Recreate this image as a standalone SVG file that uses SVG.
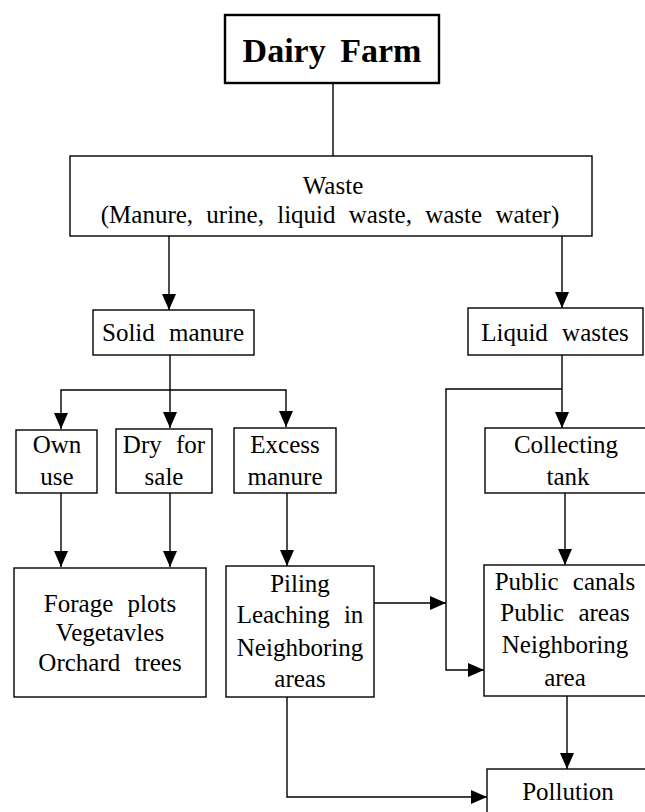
<svg xmlns="http://www.w3.org/2000/svg" width="645" height="812" viewBox="0 0 645 812">
<style>
  .box { fill: #fff; stroke: #000; stroke-width: 1.4; }
  .main { fill: #fff; stroke: #000; stroke-width: 2.4; }
  .t { font-family: "Liberation Serif", "Times New Roman", serif; font-size: 25px; fill: #000; text-anchor: middle; word-spacing: 8px; }
  .title { font-family: "Liberation Serif", "Times New Roman", serif; font-size: 34px; font-weight: bold; fill: #000; text-anchor: middle; word-spacing: 6px; }
  .c { fill: none; stroke: #000; stroke-width: 1.4; }
</style>
<defs>
  <marker id="arr" markerUnits="userSpaceOnUse" markerWidth="16" markerHeight="14" refX="16" refY="7" orient="auto">
    <path d="M0,0 L16,7 L0,14 Z" fill="#000"/>
  </marker>
</defs>
<rect width="645" height="812" fill="#fff"/>

<g id="connectors">
  <path class="c" d="M333,83 V156"/>
  <path class="c" d="M169,236 V310" marker-end="url(#arr)"/>
  <path class="c" d="M562,236 V308" marker-end="url(#arr)"/>
  <path class="c" d="M170,355 V428" marker-end="url(#arr)"/>
  <path class="c" d="M170,390 H61 V429" marker-end="url(#arr)"/>
  <path class="c" d="M170,390 H286 V427" marker-end="url(#arr)"/>
  <path class="c" d="M562,355 V428" marker-end="url(#arr)"/>
  <path class="c" d="M562,389 H446 V670 H484" marker-end="url(#arr)"/>
  <path class="c" d="M61,493 V567" marker-end="url(#arr)"/>
  <path class="c" d="M170,493 V567" marker-end="url(#arr)"/>
  <path class="c" d="M287,493 V566" marker-end="url(#arr)"/>
  <path class="c" d="M374,603 H446" marker-end="url(#arr)"/>
  <path class="c" d="M565,493 V565" marker-end="url(#arr)"/>
  <path class="c" d="M567,696 V769" marker-end="url(#arr)"/>
  <path class="c" d="M287,697 V797 H487" marker-end="url(#arr)"/>
</g>

<g id="dairy-farm">
  <rect class="main" x="225" y="15" width="214" height="68"/>
  <text class="title" x="332" y="62">Dairy Farm</text>
</g>

<g id="waste">
  <rect class="box" x="70" y="156" width="522" height="80"/>
  <text class="t" x="333" y="194">Waste</text>
  <text class="t" x="330" y="223" style="word-spacing:7px">(Manure, urine, liquid waste, waste water)</text>
</g>

<g id="solid-manure">
  <rect class="box" x="93" y="310" width="161" height="45"/>
  <text class="t" x="173" y="341">Solid manure</text>
</g>

<g id="liquid-wastes">
  <rect class="box" x="468" y="308" width="175" height="47"/>
  <text class="t" x="555" y="341">Liquid wastes</text>
</g>

<g id="own-use">
  <rect class="box" x="16" y="430" width="81" height="63"/>
  <text class="t" x="57" y="453">Own</text>
  <text class="t" x="57" y="485">use</text>
</g>

<g id="dry-for-sale">
  <rect class="box" x="116" y="429" width="96" height="64"/>
  <text class="t" x="164" y="453">Dry for</text>
  <text class="t" x="164" y="485">sale</text>
</g>

<g id="excess-manure">
  <rect class="box" x="234" y="428" width="102" height="65"/>
  <text class="t" x="285" y="453">Excess</text>
  <text class="t" x="285" y="485">manure</text>
</g>

<g id="collecting-tank">
  <rect class="box" x="485" y="428" width="165" height="65"/>
  <text class="t" x="566" y="453">Collecting</text>
  <text class="t" x="568" y="485">tank</text>
</g>

<g id="forage-plots">
  <rect class="box" x="14" y="568" width="192" height="129"/>
  <text class="t" x="110" y="612">Forage plots</text>
  <text class="t" x="110" y="641">Vegetavles</text>
  <text class="t" x="110" y="671">Orchard trees</text>
</g>

<g id="piling">
  <rect class="box" x="226" y="566" width="148" height="131"/>
  <text class="t" x="300" y="592">Piling</text>
  <text class="t" x="300" y="623">Leaching in</text>
  <text class="t" x="300" y="656">Neighboring</text>
  <text class="t" x="300" y="687">areas</text>
</g>

<g id="public-canals">
  <rect class="box" x="484" y="565" width="166" height="131"/>
  <text class="t" x="565" y="590">Public canals</text>
  <text class="t" x="565" y="621">Public areas</text>
  <text class="t" x="565" y="653">Neighboring</text>
  <text class="t" x="565" y="686">area</text>
</g>

<g id="pollution">
  <rect class="box" x="487" y="769" width="163" height="50"/>
  <text class="t" x="568" y="800">Pollution</text>
</g>
</svg>
